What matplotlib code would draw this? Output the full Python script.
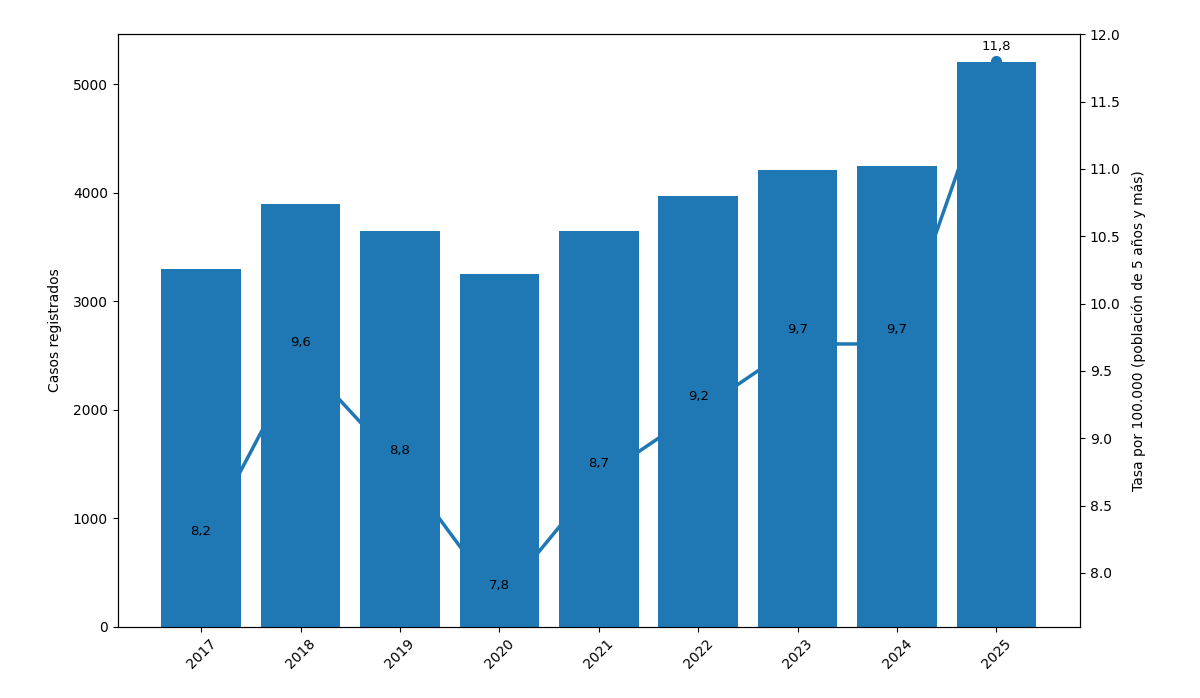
import matplotlib
matplotlib.use("Agg")
import matplotlib.pyplot as plt

# datos
anios = ['2017', '2018', '2019', '2020', '2021', '2022', '2023', '2024', '2025']
casos = [3300, 3900, 3650, 3250, 3650, 3970, 4210, 4250, 5200]
tasa = [8.2, 9.6, 8.8, 7.8, 8.7, 9.2, 9.7, 9.7, 11.8]

fig, ax1 = plt.subplots(figsize=(12, 6.98), dpi=100)
fig.subplots_adjust(left=0.098, right=0.9, top=0.951, bottom=0.102)

x = range(len(anios))
ax1.bar(x, casos, color='#1f77b4')
ax1.set_ylabel('Casos registrados', labelpad=8)
ax1.set_xticks(list(x))
ax1.set_xticklabels(anios, rotation=45)

ax2 = ax1.twinx()
ax2.plot(list(x), tasa, marker='o', linewidth=2.5, markersize=7, color='#1f77b4')
ax2.set_ylim(min(tasa) - 0.2, max(tasa) + 0.2)
ax2.set_ylabel('Tasa por 100.000 (población de 5 años y más)', labelpad=8)

# barras por encima de la linea
ax1.set_zorder(ax2.get_zorder() + 1)
ax1.patch.set_visible(False)

for i, v in enumerate(tasa):
    ax1.annotate(f'{v:.1f}'.replace('.', ','), xy=(i, v), xycoords=ax2.transData,
                 xytext=(0, 6), textcoords='offset points', ha='center', va='bottom',
                 fontsize=9.5)

plt.savefig('out.png')
